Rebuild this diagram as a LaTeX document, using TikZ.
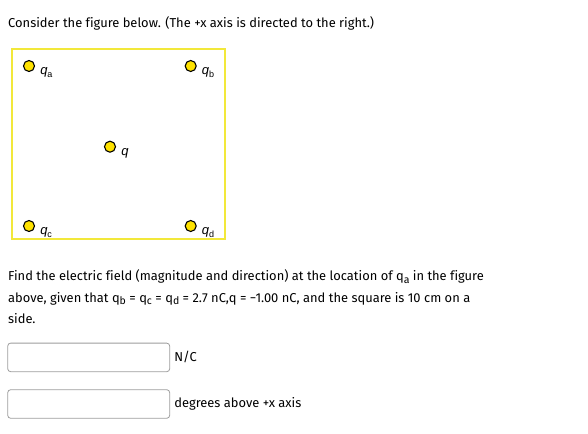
\documentclass[tikz,border=0pt]{standalone}
\usepackage{fontspec}
\setmainfont[Ligatures=NoCommon]{Fira Sans}
\newfontfamily\figfont{Liberation Sans}
\usetikzlibrary{positioning}

\definecolor{frameyellow}{HTML}{F2E83A}
\definecolor{chargeyellow}{HTML}{FFE200}
\definecolor{boxgray}{HTML}{9C9C9C}

\newcommand{\qlab}[1]{\textit{q}\raisebox{-2.5pt}{\fontsize{9}{9}\selectfont #1}}
\newcommand{\qtxt}[1]{q\raisebox{-2.5pt}{\fontsize{10.5}{10.5}\selectfont #1}}

\tikzset{
  charge/.style={circle,draw=black,fill=chargeyellow,line width=1.1pt,
    minimum size=11pt,inner sep=0pt},
  chlabel/.style={anchor=base west,inner sep=0pt,
    font=\figfont\fontsize{13}{13}\selectfont},
  txt/.style={anchor=base west,inner sep=0pt,font=\fontsize{12.9}{15}\selectfont},
  ansbox/.style={draw=boxgray,rounded corners=3pt,line width=0.8pt,
    minimum width=162pt,minimum height=28.6pt,inner sep=0pt,anchor=north west},
  unit/.style={anchor=west,inner sep=0pt,font=\fontsize{12.9}{15}\selectfont}
}

\begin{document}
\begin{tikzpicture}[x=1pt,y=-1pt]
\useasboundingbox (0,0) rectangle (588,433);

\node[txt] (intro) at (8,28) {Consider the figure below. (The +x axis is directed to the right.)};

\draw[frameyellow,line width=2pt] (11.5,49.5) rectangle (225,239);

\node[charge] (qa) at (29,66) {};
\node[charge] (qb) at (190.7,66) {};
\node[charge] (q) at (110,146.7) {};
\node[charge] (qc) at (29,226) {};
\node[charge] (qd) at (190.7,226) {};

\node[chlabel] (la) at ([xshift=5pt,yshift=-8.5pt]qa.east) {\qlab{a}};
\node[chlabel] (lb) at ([xshift=5pt,yshift=-8.5pt]qb.east) {\qlab{b}};
\node[chlabel] (lq) at ([xshift=5pt,yshift=-8.5pt]q.east) {\textit{q}};
\node[chlabel] (lc) at ([xshift=5pt,yshift=-8.5pt]qc.east) {\qlab{c}};
\node[chlabel] (ld) at ([xshift=5pt,yshift=-8.5pt]qd.east) {\qlab{d}};

\node[txt] (task1) at (8,280.7) {Find the electric field (magnitude and direction) at the location of \qtxt{a} in the figure};
\node[txt] (task2) at (8,302.3) {above, given that \qtxt{b} = \qtxt{c} = \qtxt{d} = 2.7 nC,q = −1.00 nC, and the square is 10 cm on a};
\node[txt] (task3) at (8,323.3) {side.};

\node[ansbox] (mag) at (7.3,342.7) {};
\node[unit,right=4pt of mag] (magunit) {N/C};
\node[ansbox] (dir) at (7.3,389.3) {};
\node[unit,right=4pt of dir] (dirunit) {degrees above +x axis};

\end{tikzpicture}
\end{document}
